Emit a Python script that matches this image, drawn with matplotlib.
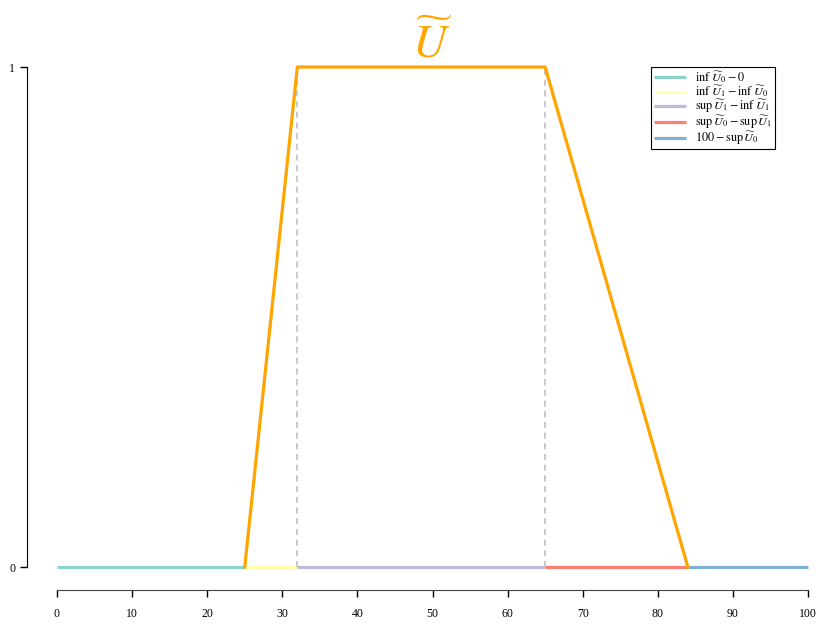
import numpy as np
import matplotlib
matplotlib.use('Agg')
import matplotlib.pyplot as plt

plt.rcParams['font.family'] = ['Liberation Serif', 'DejaVu Serif']
plt.rcParams['mathtext.fontset'] = 'stix'

# trapezoid fuzzy number
trap_x = [25, 32, 65, 84]
trap_y = [0, 1, 1, 0]

# baseline segments (start, end) and legend labels
seg_starts = [0, 25, 32, 65, 84]
seg_ends = [25, 32, 65, 84, 100]
seg_colors = ['#8DD3C7', '#FFFFB3', '#BEBADA', '#FB8072', '#80B1D3']
seg_labels = [r'$\inf\,\widetilde{U}_0 - 0$',
              r'$\inf\,\widetilde{U}_1 - \inf\,\widetilde{U}_0$',
              r'$\sup\,\widetilde{U}_1 - \inf\,\widetilde{U}_1$',
              r'$\sup\,\widetilde{U}_0 - \sup\,\widetilde{U}_1$',
              r'$100 - \sup\,\widetilde{U}_0$']

xticks = [0, 10, 20, 30, 40, 50, 60, 70, 80, 90, 100]
yticks = [0, 1]

fig = plt.figure(figsize=(8.17, 6.25), dpi=100)
W, H = 817, 625
ax = fig.add_axes([57 / W, (H - 567) / H, (808 - 57) / W, (567 - 67) / H])

for s, e, c, lab in zip(seg_starts, seg_ends, seg_colors, seg_labels):
    ax.plot([s, e], [0, 0], color=c, lw=2.3, label=lab,
            solid_capstyle='butt', clip_on=False)

ax.plot(trap_x, trap_y, color='#FFA500', lw=2.3, clip_on=False, zorder=3)
for xv in trap_x[1:3]:
    ax.plot([xv, xv], [0, 1], color='#BBBBBB', lw=1.1, ls=(0, (4, 3)),
            clip_on=False)

ax.set_xlim(0, 100)
ax.set_ylim(0, 1)
ax.set_xticks(xticks)
ax.set_yticks(yticks)
ax.set_yticklabels(['0', '1'], rotation=90, va='center')

for sp in ['top', 'right']:
    ax.spines[sp].set_visible(False)
ax.spines['left'].set_position(('outward', 30 * 72 / 100))
ax.spines['bottom'].set_position(('outward', 23 * 72 / 100))
ax.spines['left'].set_bounds(0, 1)
ax.spines['bottom'].set_bounds(0, 100)
ax.spines['bottom'].set_color('#444444')
ax.tick_params(axis='both', labelsize=8.5, length=5, width=1)
ax.tick_params(axis='x', pad=8)

ax.set_title(r'$\widetilde{U}$', color='#FFA500', fontsize=34, pad=6)

leg = ax.legend(loc='upper right', bbox_to_anchor=(718 / 751, 1.0), fontsize=8.8,
                fancybox=False, edgecolor='black', framealpha=1,
                handlelength=2.6, borderpad=0.2, labelspacing=-0.1,
                handletextpad=0.8, borderaxespad=0)
leg.get_frame().set_linewidth(0.8)

fig.savefig('out.png', dpi=100)
